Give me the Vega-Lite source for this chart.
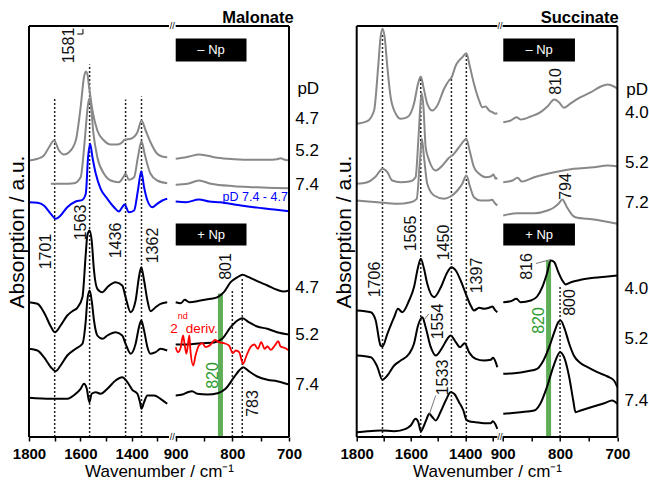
{
"$schema": "https://vega.github.io/schema/vega-lite/v6.json",
"padding": {"left": 6, "top": 9, "right": 0, "bottom": 0},
"bounds": "flush",
"spacing": 67.7,
"config": {"view": {"stroke": null}, "font": "Liberation Sans", "text": {"font": "Liberation Sans"}},
"datasets": {
"mL": [
{"k":"g1","x":1800,"y":276.5},{"k":"g1","x":1767,"y":278.2},{"k":"g1","x":1742,"y":281.5},{"k":"g1","x":1722,"y":289.8},{"k":"g1","x":1703,"y":296.5},{"k":"g1","x":1683,"y":286.5},{"k":"g1","x":1664,"y":282.5},{"k":"g1","x":1644,"y":284.8},{"k":"g1","x":1618,"y":296.5},{"k":"g1","x":1599,"y":329.8},{"k":"g1","x":1586,"y":359.8},{"k":"g1","x":1579,"y":365.5},{"k":"g1","x":1573,"y":363.2},{"k":"g1","x":1566,"y":349.8},{"k":"g1","x":1553,"y":326.5},{"k":"g1","x":1534,"y":306.5},{"k":"g1","x":1508,"y":296.5},{"k":"g1","x":1482,"y":292.5},{"k":"g1","x":1456,"y":292.5},{"k":"g1","x":1437,"y":294.8},{"k":"g1","x":1428,"y":297.2},{"k":"g1","x":1404,"y":298.2},{"k":"g1","x":1378,"y":304.8},{"k":"g1","x":1362,"y":316.5},{"k":"g1","x":1346,"y":306.5},{"k":"g1","x":1327,"y":294.8},{"k":"g1","x":1301,"y":283.2},{"k":"g1","x":1281,"y":280.5},{"k":"g1","x":1262,"y":279.8},
{"k":"g2","x":1715,"y":253.2},{"k":"g2","x":1664,"y":253.2},{"k":"g2","x":1625,"y":253.8},{"k":"g2","x":1599,"y":259.8},{"k":"g2","x":1583,"y":296.5},{"k":"g2","x":1573,"y":326.5},{"k":"g2","x":1566,"y":338.2},{"k":"g2","x":1560,"y":333.2},{"k":"g2","x":1549,"y":303.2},{"k":"g2","x":1534,"y":279.8},{"k":"g2","x":1508,"y":263.2},{"k":"g2","x":1482,"y":256.5},{"k":"g2","x":1450,"y":254.8},{"k":"g2","x":1433,"y":259.8},{"k":"g2","x":1424,"y":263.2},{"k":"g2","x":1411,"y":257.2},{"k":"g2","x":1391,"y":259.8},{"k":"g2","x":1376,"y":279.8},{"k":"g2","x":1362,"y":295.8},{"k":"g2","x":1350,"y":283.2},{"k":"g2","x":1327,"y":263.2},{"k":"g2","x":1301,"y":256.5},{"k":"g2","x":1262,"y":253.8},
{"k":"b","x":1800,"y":234.8},{"k":"b","x":1767,"y":234.2},{"k":"b","x":1742,"y":231.5},{"k":"b","x":1715,"y":223.2},{"k":"b","x":1696,"y":218.2},{"k":"b","x":1677,"y":221.5},{"k":"b","x":1651,"y":229.8},{"k":"b","x":1618,"y":235.5},{"k":"b","x":1592,"y":237.2},{"k":"b","x":1579,"y":243.2},{"k":"b","x":1570,"y":279.8},{"k":"b","x":1562,"y":293.2},{"k":"b","x":1553,"y":279.8},{"k":"b","x":1540,"y":263.2},{"k":"b","x":1521,"y":248.2},{"k":"b","x":1495,"y":238.2},{"k":"b","x":1469,"y":229.8},{"k":"b","x":1450,"y":225.5},{"k":"b","x":1437,"y":229.8},{"k":"b","x":1428,"y":232.5},{"k":"b","x":1411,"y":224.8},{"k":"b","x":1391,"y":226.5},{"k":"b","x":1376,"y":246.5},{"k":"b","x":1363,"y":265.8},{"k":"b","x":1352,"y":249.8},{"k":"b","x":1339,"y":236.5},{"k":"b","x":1320,"y":229.8},{"k":"b","x":1301,"y":233.2},{"k":"b","x":1281,"y":236.5},{"k":"b","x":1262,"y":238.2},
{"k":"k1","x":1800,"y":134.8},{"k":"k1","x":1767,"y":133.2},{"k":"k1","x":1742,"y":124.8},{"k":"k1","x":1715,"y":110.5},{"k":"k1","x":1699,"y":104.8},{"k":"k1","x":1677,"y":111.5},{"k":"k1","x":1651,"y":121.5},{"k":"k1","x":1631,"y":125.8},{"k":"k1","x":1612,"y":129.2},{"k":"k1","x":1592,"y":139.8},{"k":"k1","x":1579,"y":183.2},{"k":"k1","x":1573,"y":201.5},{"k":"k1","x":1564,"y":206.5},{"k":"k1","x":1556,"y":196.5},{"k":"k1","x":1547,"y":166.5},{"k":"k1","x":1534,"y":148.2},{"k":"k1","x":1514,"y":144.8},{"k":"k1","x":1495,"y":149.8},{"k":"k1","x":1463,"y":154.8},{"k":"k1","x":1437,"y":151.5},{"k":"k1","x":1424,"y":139.8},{"k":"k1","x":1404,"y":124.8},{"k":"k1","x":1385,"y":136.5},{"k":"k1","x":1372,"y":159.8},{"k":"k1","x":1363,"y":169.8},{"k":"k1","x":1352,"y":156.5},{"k":"k1","x":1339,"y":136.5},{"k":"k1","x":1327,"y":125.8},{"k":"k1","x":1307,"y":129.8},{"k":"k1","x":1288,"y":133.2},{"k":"k1","x":1262,"y":134.8},
{"k":"k2","x":1800,"y":88.2},{"k":"k2","x":1767,"y":86.5},{"k":"k2","x":1742,"y":79.8},{"k":"k2","x":1715,"y":69.8},{"k":"k2","x":1696,"y":65.8},{"k":"k2","x":1677,"y":71.5},{"k":"k2","x":1651,"y":81.5},{"k":"k2","x":1618,"y":88.2},{"k":"k2","x":1592,"y":93.2},{"k":"k2","x":1579,"y":116.5},{"k":"k2","x":1573,"y":136.5},{"k":"k2","x":1564,"y":146.5},{"k":"k2","x":1556,"y":136.5},{"k":"k2","x":1547,"y":116.5},{"k":"k2","x":1534,"y":101.5},{"k":"k2","x":1514,"y":98.2},{"k":"k2","x":1495,"y":101.5},{"k":"k2","x":1463,"y":104.8},{"k":"k2","x":1437,"y":101.5},{"k":"k2","x":1424,"y":93.2},{"k":"k2","x":1404,"y":83.2},{"k":"k2","x":1385,"y":93.2},{"k":"k2","x":1372,"y":109.8},{"k":"k2","x":1363,"y":116.5},{"k":"k2","x":1352,"y":106.5},{"k":"k2","x":1339,"y":89.8},{"k":"k2","x":1327,"y":83.2},{"k":"k2","x":1307,"y":84.8},{"k":"k2","x":1288,"y":88.2},{"k":"k2","x":1262,"y":86.5},
{"k":"k3","x":1800,"y":39.2},{"k":"k3","x":1715,"y":38.2},{"k":"k3","x":1651,"y":38.2},{"k":"k3","x":1618,"y":43.2},{"k":"k3","x":1599,"y":48.2},{"k":"k3","x":1586,"y":53.2},{"k":"k3","x":1575,"y":48.2},{"k":"k3","x":1565,"y":34.8},{"k":"k3","x":1556,"y":43.2},{"k":"k3","x":1540,"y":44.8},{"k":"k3","x":1521,"y":43.2},{"k":"k3","x":1495,"y":48.2},{"k":"k3","x":1463,"y":56.5},{"k":"k3","x":1437,"y":59.8},{"k":"k3","x":1417,"y":54.8},{"k":"k3","x":1398,"y":47.2},{"k":"k3","x":1378,"y":43.2},{"k":"k3","x":1368,"y":34.8},{"k":"k3","x":1362,"y":28.2},{"k":"k3","x":1352,"y":34.8},{"k":"k3","x":1339,"y":41.5},{"k":"k3","x":1313,"y":41.5},{"k":"k3","x":1288,"y":38.2},{"k":"k3","x":1262,"y":33.2}
],
"mR": [
{"k":"g1","x":900,"y":278.2},{"k":"g1","x":888,"y":279.2},{"k":"g1","x":876,"y":280.5},{"k":"g1","x":859,"y":282.5},{"k":"g1","x":844,"y":281.2},{"k":"g1","x":826,"y":279.2},{"k":"g1","x":797,"y":277.8},{"k":"g1","x":762,"y":277.2},{"k":"g1","x":738,"y":277.2},{"k":"g1","x":721,"y":277.8},{"k":"g1","x":715,"y":278.8},{"k":"g1","x":709,"y":277.5},{"k":"g1","x":700,"y":276.5},
{"k":"g2","x":900,"y":252.2},{"k":"g2","x":879,"y":253.2},{"k":"g2","x":859,"y":256.5},{"k":"g2","x":838,"y":253.2},{"k":"g2","x":797,"y":250.8},{"k":"g2","x":762,"y":249.8},{"k":"g2","x":738,"y":249.2},{"k":"g2","x":700,"y":248.8},
{"k":"b","x":900,"y":235.5},{"k":"b","x":882,"y":234.8},{"k":"b","x":859,"y":237.5},{"k":"b","x":841,"y":235.5},{"k":"b","x":821,"y":234.8},{"k":"b","x":797,"y":232.5},{"k":"b","x":762,"y":229.8},{"k":"b","x":726,"y":227.5},{"k":"b","x":700,"y":225.8},
{"k":"k1","x":900,"y":134.8},{"k":"k1","x":891,"y":133.8},{"k":"k1","x":884,"y":137.2},{"k":"k1","x":876,"y":134.8},{"k":"k1","x":856,"y":136.5},{"k":"k1","x":838,"y":138.2},{"k":"k1","x":826,"y":139.8},{"k":"k1","x":815,"y":144.8},{"k":"k1","x":803,"y":154.8},{"k":"k1","x":791,"y":159.8},{"k":"k1","x":782,"y":162.2},{"k":"k1","x":771,"y":159.8},{"k":"k1","x":756,"y":155.8},{"k":"k1","x":738,"y":151.5},{"k":"k1","x":721,"y":147.2},{"k":"k1","x":709,"y":145.5},{"k":"k1","x":700,"y":146.5},
{"k":"k2","x":900,"y":92.5},{"k":"k2","x":879,"y":92.5},{"k":"k2","x":856,"y":93.8},{"k":"k2","x":832,"y":94.5},{"k":"k2","x":818,"y":98.2},{"k":"k2","x":803,"y":109.8},{"k":"k2","x":791,"y":116.5},{"k":"k2","x":782,"y":118.8},{"k":"k2","x":771,"y":114.8},{"k":"k2","x":756,"y":110.5},{"k":"k2","x":738,"y":108.2},{"k":"k2","x":721,"y":104.8},{"k":"k2","x":700,"y":102.5},
{"k":"k3","x":900,"y":41.5},{"k":"k3","x":888,"y":42.5},{"k":"k3","x":879,"y":44.8},{"k":"k3","x":871,"y":45.8},{"k":"k3","x":862,"y":43.2},{"k":"k3","x":844,"y":42.5},{"k":"k3","x":826,"y":43.8},{"k":"k3","x":812,"y":48.2},{"k":"k3","x":797,"y":59.8},{"k":"k3","x":788,"y":66.5},{"k":"k3","x":781,"y":69.8},{"k":"k3","x":771,"y":65.8},{"k":"k3","x":756,"y":60.5},{"k":"k3","x":738,"y":57.2},{"k":"k3","x":721,"y":55.8},{"k":"k3","x":700,"y":52.5}
],
"mRed": [
{"k":"r","x":900,"y":89.8},{"k":"r","x":896,"y":84.8},{"k":"r","x":891,"y":89.8},{"k":"r","x":887,"y":101.5},{"k":"r","x":884,"y":91.5},{"k":"r","x":881,"y":83.2},{"k":"r","x":876,"y":101.5},{"k":"r","x":874,"y":86.5},{"k":"r","x":869,"y":71.5},{"k":"r","x":865,"y":81.5},{"k":"r","x":859,"y":91.5},{"k":"r","x":853,"y":93.8},{"k":"r","x":847,"y":89.8},{"k":"r","x":838,"y":92.5},{"k":"r","x":831,"y":97.2},{"k":"r","x":824,"y":94.8},{"k":"r","x":815,"y":93.8},{"k":"r","x":806,"y":91.5},{"k":"r","x":799,"y":83.8},{"k":"r","x":794,"y":86.5},{"k":"r","x":788,"y":84.8},{"k":"r","x":781,"y":73.2},{"k":"r","x":775,"y":81.5},{"k":"r","x":768,"y":89.8},{"k":"r","x":761,"y":92.5},{"k":"r","x":755,"y":88.2},{"k":"r","x":749,"y":94.8},{"k":"r","x":743,"y":88.2},{"k":"r","x":738,"y":90.5},{"k":"r","x":732,"y":87.2},{"k":"r","x":725,"y":91.5},{"k":"r","x":719,"y":95.8},{"k":"r","x":715,"y":90.5},{"k":"r","x":708,"y":89.2},{"k":"r","x":700,"y":86.5}
],
"sL": [
{"k":"g1","x":1800,"y":313.2},{"k":"g1","x":1761,"y":315.8},{"k":"g1","x":1736,"y":326.5},{"k":"g1","x":1721,"y":369.8},{"k":"g1","x":1712,"y":399.8},{"k":"g1","x":1705,"y":408.2},{"k":"g1","x":1697,"y":399.8},{"k":"g1","x":1687,"y":369.8},{"k":"g1","x":1675,"y":339.8},{"k":"g1","x":1656,"y":323.2},{"k":"g1","x":1638,"y":318.2},{"k":"g1","x":1613,"y":319.8},{"k":"g1","x":1589,"y":333.2},{"k":"g1","x":1574,"y":353.2},{"k":"g1","x":1564,"y":360.5},{"k":"g1","x":1554,"y":349.8},{"k":"g1","x":1540,"y":333.2},{"k":"g1","x":1521,"y":326.5},{"k":"g1","x":1503,"y":331.5},{"k":"g1","x":1478,"y":348.2},{"k":"g1","x":1460,"y":356.5},{"k":"g1","x":1451,"y":359.2},{"k":"g1","x":1435,"y":371.5},{"k":"g1","x":1423,"y":376.5},{"k":"g1","x":1411,"y":379.8},{"k":"g1","x":1396,"y":383.8},{"k":"g1","x":1384,"y":371.5},{"k":"g1","x":1368,"y":353.2},{"k":"g1","x":1349,"y":336.5},{"k":"g1","x":1337,"y":329.8},{"k":"g1","x":1325,"y":330.5},{"k":"g1","x":1312,"y":326.5},{"k":"g1","x":1300,"y":324.8},{"k":"g1","x":1288,"y":323.2},{"k":"g1","x":1282,"y":323.8},
{"k":"g2","x":1800,"y":253.2},{"k":"g2","x":1761,"y":254.8},{"k":"g2","x":1730,"y":260.5},{"k":"g2","x":1705,"y":268.2},{"k":"g2","x":1687,"y":264.8},{"k":"g2","x":1669,"y":256.5},{"k":"g2","x":1638,"y":254.8},{"k":"g2","x":1601,"y":255.8},{"k":"g2","x":1583,"y":259.8},{"k":"g2","x":1573,"y":296.5},{"k":"g2","x":1564,"y":336.5},{"k":"g2","x":1560,"y":343.8},{"k":"g2","x":1554,"y":329.8},{"k":"g2","x":1546,"y":289.8},{"k":"g2","x":1533,"y":276.5},{"k":"g2","x":1509,"y":266.5},{"k":"g2","x":1484,"y":271.5},{"k":"g2","x":1460,"y":279.2},{"k":"g2","x":1444,"y":282.5},{"k":"g2","x":1423,"y":289.8},{"k":"g2","x":1404,"y":296.5},{"k":"g2","x":1396,"y":298.2},{"k":"g2","x":1384,"y":286.5},{"k":"g2","x":1368,"y":269.8},{"k":"g2","x":1349,"y":263.2},{"k":"g2","x":1325,"y":259.8},{"k":"g2","x":1306,"y":260.5},{"k":"g2","x":1296,"y":262.5},{"k":"g2","x":1288,"y":258.2},{"k":"g2","x":1282,"y":259.2},
{"k":"g3","x":1800,"y":236.5},{"k":"g3","x":1724,"y":234.8},{"k":"g3","x":1650,"y":233.2},{"k":"g3","x":1601,"y":234.8},{"k":"g3","x":1579,"y":238.2},{"k":"g3","x":1567,"y":276.5},{"k":"g3","x":1560,"y":298.2},{"k":"g3","x":1552,"y":279.8},{"k":"g3","x":1540,"y":253.2},{"k":"g3","x":1515,"y":241.5},{"k":"g3","x":1478,"y":238.2},{"k":"g3","x":1454,"y":240.5},{"k":"g3","x":1429,"y":246.5},{"k":"g3","x":1411,"y":253.2},{"k":"g3","x":1396,"y":261.5},{"k":"g3","x":1382,"y":249.8},{"k":"g3","x":1368,"y":239.8},{"k":"g3","x":1343,"y":236.5},{"k":"g3","x":1318,"y":236.5},{"k":"g3","x":1300,"y":237.2},{"k":"g3","x":1294,"y":234.8},{"k":"g3","x":1282,"y":231.5},
{"k":"k1","x":1800,"y":126.5},{"k":"k1","x":1748,"y":124.8},{"k":"k1","x":1730,"y":116.5},{"k":"k1","x":1712,"y":91.5},{"k":"k1","x":1705,"y":90.5},{"k":"k1","x":1687,"y":103.2},{"k":"k1","x":1662,"y":119.8},{"k":"k1","x":1648,"y":128.2},{"k":"k1","x":1632,"y":124.8},{"k":"k1","x":1607,"y":136.5},{"k":"k1","x":1589,"y":149.8},{"k":"k1","x":1574,"y":169.8},{"k":"k1","x":1564,"y":178.2},{"k":"k1","x":1552,"y":168.2},{"k":"k1","x":1540,"y":153.2},{"k":"k1","x":1515,"y":139.8},{"k":"k1","x":1490,"y":149.8},{"k":"k1","x":1466,"y":164.8},{"k":"k1","x":1451,"y":169.8},{"k":"k1","x":1435,"y":166.5},{"k":"k1","x":1417,"y":156.5},{"k":"k1","x":1398,"y":143.2},{"k":"k1","x":1380,"y":131.5},{"k":"k1","x":1368,"y":126.5},{"k":"k1","x":1349,"y":129.2},{"k":"k1","x":1331,"y":128.2},{"k":"k1","x":1312,"y":129.2},{"k":"k1","x":1300,"y":130.5},{"k":"k1","x":1291,"y":127.2},{"k":"k1","x":1282,"y":124.8},
{"k":"k2","x":1800,"y":81.5},{"k":"k2","x":1748,"y":79.8},{"k":"k2","x":1726,"y":71.5},{"k":"k2","x":1705,"y":57.2},{"k":"k2","x":1687,"y":61.5},{"k":"k2","x":1662,"y":71.5},{"k":"k2","x":1638,"y":76.5},{"k":"k2","x":1607,"y":83.2},{"k":"k2","x":1589,"y":93.2},{"k":"k2","x":1574,"y":111.5},{"k":"k2","x":1558,"y":119.8},{"k":"k2","x":1546,"y":109.8},{"k":"k2","x":1527,"y":89.8},{"k":"k2","x":1509,"y":81.5},{"k":"k2","x":1484,"y":89.8},{"k":"k2","x":1466,"y":98.2},{"k":"k2","x":1454,"y":101.5},{"k":"k2","x":1435,"y":94.8},{"k":"k2","x":1419,"y":89.8},{"k":"k2","x":1402,"y":93.8},{"k":"k2","x":1386,"y":84.8},{"k":"k2","x":1361,"y":78.2},{"k":"k2","x":1331,"y":76.5},{"k":"k2","x":1306,"y":77.2},{"k":"k2","x":1298,"y":79.2},{"k":"k2","x":1288,"y":74.8},{"k":"k2","x":1282,"y":69.8},
{"k":"k3","x":1800,"y":4.8},{"k":"k3","x":1761,"y":5.8},{"k":"k3","x":1712,"y":6.5},{"k":"k3","x":1662,"y":5.8},{"k":"k3","x":1619,"y":8.2},{"k":"k3","x":1601,"y":11.5},{"k":"k3","x":1583,"y":18.2},{"k":"k3","x":1573,"y":14.8},{"k":"k3","x":1564,"y":5.8},{"k":"k3","x":1552,"y":11.5},{"k":"k3","x":1542,"y":18.2},{"k":"k3","x":1533,"y":23.2},{"k":"k3","x":1521,"y":19.8},{"k":"k3","x":1509,"y":16.5},{"k":"k3","x":1490,"y":25.8},{"k":"k3","x":1472,"y":36.5},{"k":"k3","x":1454,"y":44.8},{"k":"k3","x":1441,"y":43.2},{"k":"k3","x":1423,"y":34.8},{"k":"k3","x":1407,"y":26.5},{"k":"k3","x":1396,"y":17.2},{"k":"k3","x":1386,"y":15.8},{"k":"k3","x":1361,"y":14.8},{"k":"k3","x":1331,"y":13.8},{"k":"k3","x":1306,"y":13.8},{"k":"k3","x":1298,"y":15.8},{"k":"k3","x":1290,"y":13.2},{"k":"k3","x":1282,"y":8.2}
],
"sR": [
{"k":"g1","x":899,"y":314.8},{"k":"g1","x":886,"y":316.5},{"k":"g1","x":876,"y":319.8},{"k":"g1","x":869,"y":317.5},{"k":"g1","x":851,"y":320.5},{"k":"g1","x":834,"y":324.8},{"k":"g1","x":822,"y":330.5},{"k":"g1","x":810,"y":337.5},{"k":"g1","x":802,"y":334.8},{"k":"g1","x":793,"y":329.2},{"k":"g1","x":781,"y":333.8},{"k":"g1","x":764,"y":339.8},{"k":"g1","x":746,"y":344.8},{"k":"g1","x":729,"y":350.5},{"k":"g1","x":717,"y":352.5},{"k":"g1","x":706,"y":350.5},{"k":"g1","x":700,"y":348.2},
{"k":"g2","x":899,"y":254.8},{"k":"g2","x":883,"y":256.5},{"k":"g2","x":874,"y":259.2},{"k":"g2","x":867,"y":255.5},{"k":"g2","x":845,"y":259.8},{"k":"g2","x":810,"y":264.8},{"k":"g2","x":776,"y":268.2},{"k":"g2","x":741,"y":269.8},{"k":"g2","x":717,"y":271.5},{"k":"g2","x":700,"y":270.5},
{"k":"g3","x":899,"y":221.5},{"k":"g3","x":874,"y":223.8},{"k":"g3","x":845,"y":223.8},{"k":"g3","x":822,"y":226.5},{"k":"g3","x":810,"y":229.8},{"k":"g3","x":802,"y":233.8},{"k":"g3","x":796,"y":237.5},{"k":"g3","x":788,"y":229.8},{"k":"g3","x":778,"y":221.5},{"k":"g3","x":770,"y":219.2},{"k":"g3","x":752,"y":218.2},{"k":"g3","x":723,"y":215.8},{"k":"g3","x":700,"y":213.2},
{"k":"k1","x":899,"y":134.8},{"k":"k1","x":886,"y":135.8},{"k":"k1","x":876,"y":138.2},{"k":"k1","x":869,"y":134.8},{"k":"k1","x":851,"y":136.5},{"k":"k1","x":840,"y":140.5},{"k":"k1","x":831,"y":149.8},{"k":"k1","x":823,"y":163.2},{"k":"k1","x":816,"y":176.5},{"k":"k1","x":810,"y":174.8},{"k":"k1","x":803,"y":164.8},{"k":"k1","x":796,"y":156.5},{"k":"k1","x":790,"y":152.5},{"k":"k1","x":781,"y":154.8},{"k":"k1","x":764,"y":157.2},{"k":"k1","x":741,"y":159.2},{"k":"k1","x":717,"y":160.5},{"k":"k1","x":700,"y":161.5},
{"k":"k2","x":899,"y":63.2},{"k":"k2","x":880,"y":63.8},{"k":"k2","x":857,"y":65.8},{"k":"k2","x":840,"y":68.2},{"k":"k2","x":829,"y":76.5},{"k":"k2","x":819,"y":89.8},{"k":"k2","x":810,"y":104.8},{"k":"k2","x":803,"y":114.8},{"k":"k2","x":799,"y":116.5},{"k":"k2","x":792,"y":108.2},{"k":"k2","x":784,"y":93.2},{"k":"k2","x":776,"y":81.5},{"k":"k2","x":764,"y":73.8},{"k":"k2","x":752,"y":69.8},{"k":"k2","x":735,"y":64.8},{"k":"k2","x":717,"y":60.5},{"k":"k2","x":706,"y":56.5},{"k":"k2","x":700,"y":49.8},
{"k":"k3","x":899,"y":23.2},{"k":"k3","x":869,"y":24.8},{"k":"k3","x":845,"y":26.5},{"k":"k3","x":834,"y":33.8},{"k":"k3","x":822,"y":51.5},{"k":"k3","x":810,"y":73.2},{"k":"k3","x":800,"y":84.8},{"k":"k3","x":793,"y":79.8},{"k":"k3","x":784,"y":59.8},{"k":"k3","x":777,"y":36.5},{"k":"k3","x":773,"y":24.8},{"k":"k3","x":764,"y":26.5},{"k":"k3","x":746,"y":29.8},{"k":"k3","x":723,"y":33.8},{"k":"k3","x":709,"y":36.5},{"k":"k3","x":700,"y":33.2}
],
"mFrame": [
{"x":1800,"x2":1800,"y":0,"y2":411},{"x":700,"x2":700,"y":0,"y2":411},{"x":1800,"x2":1255,"y":411,"y2":411},{"x":900,"x2":700,"y":411,"y2":411},{"x":1800,"x2":1255,"y":0,"y2":0},{"x":900,"x2":700,"y":0,"y2":0}
],
"mTick": [{"x":1612,"x2":1590,"y":403,"y2":403},{"x":1590,"x2":1590,"y":403,"y2":408}],
"sFrame": [
{"x":1800,"x2":1800,"y":0,"y2":411},{"x":700,"x2":700,"y":0,"y2":411},{"x":1800,"x2":1282,"y":411,"y2":411},{"x":900,"x2":700,"y":411,"y2":411},{"x":1800,"x2":1282,"y":0,"y2":0},{"x":900,"x2":700,"y":0,"y2":0}
],
"mBreak": [{"t":"//","x":1078,"y":411},{"t":"//","x":1078,"y":0}],
"sBreak": [{"t":"//","x":1091,"y":411},{"t":"//","x":1091,"y":0}],
"mTitle": [{"t":"Malonate","x":691.7,"y":419.3}],
"sTitle": [{"t":"Succinate","x":697.7,"y":419.3}],
"mDot": [
{"x":1700,"y":0,"y2":339.5},{"x":1564,"y":0,"y2":372.5},{"x":1424,"y":0,"y2":337.5},{"x":1362,"y":0,"y2":340.5},{"x":800,"y":0,"y2":146.5},{"x":782.5,"y":0,"y2":159.5}
],
"sDot": [
{"x":1705,"y":0,"y2":403},{"x":1564,"y":0,"y2":359.5},{"x":1451,"y":0,"y2":358.5},{"x":1396,"y":0,"y2":383.5},{"x":800,"y":0,"y2":151.5}
],
"mGreen": [{"x":821,"y":0,"y2":143.5}],
"sGreen": [{"x":820,"y":0,"y2":176.5}],
"mGreenT": [{"t":"820","x":834,"y":61.5}],
"sGreenT": [{"t":"820","x":836,"y":116.5}],
"mPeak": [
{"t":"1581","x":1646,"y":391.5},{"t":"1701","x":1735,"y":185.5},{"t":"1563","x":1599,"y":214.5},{"t":"1436","x":1461,"y":196.5},{"t":"1362","x":1319,"y":191.5},{"t":"801","x":812,"y":170.5},{"t":"783","x":764,"y":33.5}
],
"sPeak": [
{"t":"810","x":807.5,"y":355.5},{"t":"794","x":790,"y":250.5},{"t":"1706","x":1734,"y":157.5},{"t":"1565","x":1601,"y":203.5},{"t":"1450","x":1479.5,"y":194.5},{"t":"1397","x":1358,"y":161.5},{"t":"1554","x":1500,"y":115.5},{"t":"1533","x":1481,"y":59.5},{"t":"816","x":858,"y":170.5},{"t":"800","x":783,"y":134.5}
],
"sLead": [
{"x":1534,"x2":1509,"y":21.5,"y2":41.5},{"x":842,"x2":816,"y":173.5,"y2":177.5},{"x":1552,"x2":1535,"y":117,"y2":123}
],
"mBox": [{"x":900,"x2":775,"y":375.5,"y2":398.5},{"x":900,"x2":775,"y":191.5,"y2":213.5}],
"sBox": [{"x":899,"x2":774,"y":375.5,"y2":398.5},{"x":899,"x2":774,"y":191.5,"y2":213.5}],
"mBoxT": [{"t":"– Np","x":837.5,"y":387},{"t":"+ Np","x":837.5,"y":202.5}],
"sBoxT": [{"t":"– Np","x":836.5,"y":387},{"t":"+ Np","x":836.5,"y":202.5}],
"mPD": [
{"t":"pD","x":666,"y":348.5},{"t":"4.7","x":668,"y":318},{"t":"5.2","x":668,"y":286.5},{"t":"7.4","x":668,"y":252.5},{"t":"4.7","x":668,"y":149.5},{"t":"5.2","x":668,"y":102},{"t":"7.4","x":668,"y":52.5}
],
"sPD": [
{"t":"pD","x":665.5,"y":347.5},{"t":"4.0","x":666,"y":324.5},{"t":"5.2","x":666,"y":274},{"t":"7.2","x":666,"y":234.5},{"t":"4.0","x":667,"y":148.5},{"t":"5.2","x":667,"y":98.5},{"t":"7.4","x":667,"y":36.5}
],
"mBlueT": [{"t":"pD 7.4 - 4.7","x":702,"y":240.5}],
"mRedA": [{"t":"2","x":896.5,"y":108}],
"mRedB": [{"t":"nd","x":896.5,"y":121}],
"mRedC": [{"t":"deriv.","x":882.4,"y":108}]
},
"hconcat": [
{
"width": 260, "height": 411,
"encoding": {
"x": {"field": "x", "type": "quantitative", "scale": {"type": "linear", "domain": [1800, 1255, 900, 700], "range": [0, 140, 146.7, 260], "nice": false, "zero": false},
"axis": {"values": [1800,1700,1600,1500,1400,1300,900,850,800,750,700], "format": "d", "labelExpr": "indexof([1800,1600,1400,900,800,700], datum.value) >= 0 ? datum.label : ''", "domain": false, "grid": false, "tickSize": 4, "tickWidth": 1.5, "tickColor": "black", "labelFont": "Liberation Sans", "labelFontSize": 15, "labelFontWeight": "bold", "labelColor": "black", "labelPadding": 5, "labelOverlap": false, "labelFlush": false, "labelBound": false, "title": "Wavenumber / cm⁻¹", "titleFont": "Liberation Sans", "titleFontSize": 17, "titleFontWeight": "normal", "titleColor": "black", "titlePadding": 2}},
"y": {"field": "y", "type": "quantitative", "scale": {"domain": [0, 411], "nice": false, "zero": false},
"axis": {"title": "Absorption / a.u.", "labels": false, "ticks": false, "domain": false, "grid": false, "titleFont": "Liberation Sans", "titleFontSize": 21, "titleFontWeight": "normal", "titleColor": "black", "titlePadding": 2}}
},
"layer": [
{"data": {"name": "mGreen"}, "mark": {"type": "rule", "color": "#5fae57", "strokeWidth": 5}, "encoding": {"y2": {"field": "y2"}}},
{"data": {"name": "mDot"}, "mark": {"type": "rule", "color": "#222222", "strokeWidth": 1.5, "strokeDash": [2, 2]}, "encoding": {"y2": {"field": "y2"}}},
{"data": {"name": "mL"}, "mark": {"type": "line", "interpolate": "monotone", "strokeWidth": 2}, "encoding": {"color": {"field": "k", "type": "nominal", "legend": null, "scale": {"domain": ["g1","g2","g3","b","k1","k2","k3","r"], "range": ["#888888","#888888","#888888","#0000ff","#000000","#000000","#000000","#ff0000"]}}}},
{"data": {"name": "mR"}, "mark": {"type": "line", "interpolate": "monotone", "strokeWidth": 2}, "encoding": {"color": {"field": "k", "type": "nominal", "legend": null, "scale": {"domain": ["g1","g2","g3","b","k1","k2","k3","r"], "range": ["#888888","#888888","#888888","#0000ff","#000000","#000000","#000000","#ff0000"]}}}},
{"data": {"name": "mRed"}, "mark": {"type": "line", "interpolate": "monotone", "strokeWidth": 1.8, "color": "#ff0000"}},
{"data": {"name": "mFrame"}, "mark": {"type": "rule", "color": "black", "strokeWidth": 2}, "encoding": {"x2": {"field": "x2"}, "y2": {"field": "y2"}}},
{"data": {"name": "mTick"}, "mark": {"type": "rule", "color": "black", "strokeWidth": 1}, "encoding": {"x2": {"field": "x2"}, "y2": {"field": "y2"}}},
{"data": {"name": "mBreak"}, "mark": {"type": "text", "fontSize": 9, "color": "black", "align": "center", "baseline": "middle"}, "encoding": {"text": {"field": "t"}}},
{"data": {"name": "mTitle"}, "mark": {"type": "text", "fontSize": 16.5, "fontWeight": "bold", "color": "black", "align": "right", "baseline": "middle"}, "encoding": {"text": {"field": "t"}}},
{"data": {"name": "mBox"}, "mark": {"type": "rect", "color": "black"}, "encoding": {"x2": {"field": "x2"}, "y2": {"field": "y2"}}},
{"data": {"name": "mBoxT"}, "mark": {"type": "text", "fontSize": 13, "color": "white", "align": "center", "baseline": "middle"}, "encoding": {"text": {"field": "t"}}},
{"data": {"name": "mPeak"}, "mark": {"type": "text", "fontSize": 16, "angle": 270, "color": "#111111", "align": "center", "baseline": "middle"}, "encoding": {"text": {"field": "t"}}},
{"data": {"name": "mGreenT"}, "mark": {"type": "text", "fontSize": 16, "angle": 270, "color": "#2e9a2e", "align": "center", "baseline": "middle"}, "encoding": {"text": {"field": "t"}}},
{"data": {"name": "mPD"}, "mark": {"type": "text", "fontSize": 17, "color": "black", "align": "center", "baseline": "middle"}, "encoding": {"text": {"field": "t"}}},
{"data": {"name": "mBlueT"}, "mark": {"type": "text", "fontSize": 12.5, "color": "#0000ff", "align": "right", "baseline": "middle"}, "encoding": {"text": {"field": "t"}}},
{"data": {"name": "mRedA"}, "mark": {"type": "text", "fontSize": 13.5, "color": "#ff0000", "align": "right", "baseline": "middle"}, "encoding": {"text": {"field": "t"}}},
{"data": {"name": "mRedB"}, "mark": {"type": "text", "fontSize": 9, "color": "#ff0000", "align": "left", "baseline": "middle"}, "encoding": {"text": {"field": "t"}}},
{"data": {"name": "mRedC"}, "mark": {"type": "text", "fontSize": 13.5, "color": "#ff0000", "align": "left", "baseline": "middle"}, "encoding": {"text": {"field": "t"}}}
]
},
{
"width": 261, "height": 411,
"encoding": {
"x": {"field": "x", "type": "quantitative", "scale": {"type": "linear", "domain": [1800, 1282, 900, 700], "range": [0, 140.6, 146, 260.7], "nice": false, "zero": false},
"axis": {"values": [1800,1700,1600,1500,1400,1300,900,850,800,750,700], "format": "d", "labelExpr": "indexof([1800,1600,1400,900,800,700], datum.value) >= 0 ? datum.label : ''", "domain": false, "grid": false, "tickSize": 4, "tickWidth": 1.5, "tickColor": "black", "labelFont": "Liberation Sans", "labelFontSize": 15, "labelFontWeight": "bold", "labelColor": "black", "labelPadding": 5, "labelOverlap": false, "labelFlush": false, "labelBound": false, "title": "Wavenumber / cm⁻¹", "titleFont": "Liberation Sans", "titleFontSize": 17, "titleFontWeight": "normal", "titleColor": "black", "titlePadding": 2}},
"y": {"field": "y", "type": "quantitative", "scale": {"domain": [0, 411], "nice": false, "zero": false},
"axis": {"title": "Absorption / a.u.", "labels": false, "ticks": false, "domain": false, "grid": false, "titleFont": "Liberation Sans", "titleFontSize": 21, "titleFontWeight": "normal", "titleColor": "black", "titlePadding": 2}}
},
"layer": [
{"data": {"name": "sGreen"}, "mark": {"type": "rule", "color": "#5fae57", "strokeWidth": 5}, "encoding": {"y2": {"field": "y2"}}},
{"data": {"name": "sDot"}, "mark": {"type": "rule", "color": "#222222", "strokeWidth": 1.5, "strokeDash": [2, 2]}, "encoding": {"y2": {"field": "y2"}}},
{"data": {"name": "sL"}, "mark": {"type": "line", "interpolate": "monotone", "strokeWidth": 2}, "encoding": {"color": {"field": "k", "type": "nominal", "legend": null, "scale": {"domain": ["g1","g2","g3","b","k1","k2","k3","r"], "range": ["#888888","#888888","#888888","#0000ff","#000000","#000000","#000000","#ff0000"]}}}},
{"data": {"name": "sR"}, "mark": {"type": "line", "interpolate": "monotone", "strokeWidth": 2}, "encoding": {"color": {"field": "k", "type": "nominal", "legend": null, "scale": {"domain": ["g1","g2","g3","b","k1","k2","k3","r"], "range": ["#888888","#888888","#888888","#0000ff","#000000","#000000","#000000","#ff0000"]}}}},
{"data": {"name": "sLead"}, "mark": {"type": "rule", "color": "#555555", "strokeWidth": 0.8}, "encoding": {"x2": {"field": "x2"}, "y2": {"field": "y2"}}},
{"data": {"name": "sFrame"}, "mark": {"type": "rule", "color": "black", "strokeWidth": 2}, "encoding": {"x2": {"field": "x2"}, "y2": {"field": "y2"}}},
{"data": {"name": "sBreak"}, "mark": {"type": "text", "fontSize": 9, "color": "black", "align": "center", "baseline": "middle"}, "encoding": {"text": {"field": "t"}}},
{"data": {"name": "sTitle"}, "mark": {"type": "text", "fontSize": 16.5, "fontWeight": "bold", "color": "black", "align": "right", "baseline": "middle"}, "encoding": {"text": {"field": "t"}}},
{"data": {"name": "sBox"}, "mark": {"type": "rect", "color": "black"}, "encoding": {"x2": {"field": "x2"}, "y2": {"field": "y2"}}},
{"data": {"name": "sBoxT"}, "mark": {"type": "text", "fontSize": 13, "color": "white", "align": "center", "baseline": "middle"}, "encoding": {"text": {"field": "t"}}},
{"data": {"name": "sPeak"}, "mark": {"type": "text", "fontSize": 16, "angle": 270, "color": "#111111", "align": "center", "baseline": "middle"}, "encoding": {"text": {"field": "t"}}},
{"data": {"name": "sGreenT"}, "mark": {"type": "text", "fontSize": 16, "angle": 270, "color": "#2e9a2e", "align": "center", "baseline": "middle"}, "encoding": {"text": {"field": "t"}}},
{"data": {"name": "sPD"}, "mark": {"type": "text", "fontSize": 17, "color": "black", "align": "center", "baseline": "middle"}, "encoding": {"text": {"field": "t"}}}
]
}
]
}
